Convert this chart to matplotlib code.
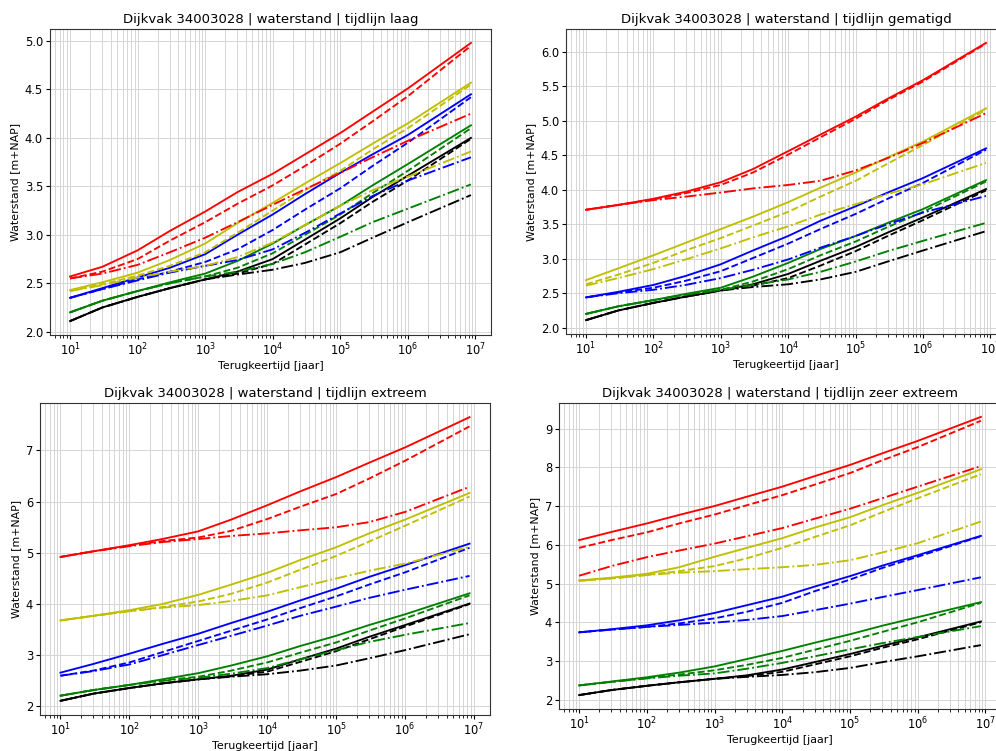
import matplotlib
matplotlib.use("Agg")
import matplotlib.pyplot as plt

# Return periods (years) at which the water levels are tabulated
terugkeertijd = [10, 30, 100, 300, 1e3, 3e3, 1e4, 3e4, 1e5, 3e5, 1e6, 8.6e6]

kleuren = ["k", "g", "b", "y", "r"]
stijlen = ["-", "--", "-."]

# Water levels [m+NAP] per timeline: for each colour three variants (solid, dashed, dash-dot)
laag = {
    "k": [[2.11, 2.25, 2.36, 2.45, 2.54, 2.62, 2.75, 2.95, 3.17, 3.39, 3.61, 4.00],
          [2.11, 2.25, 2.36, 2.45, 2.54, 2.60, 2.70, 2.90, 3.12, 3.34, 3.56, 3.99],
          [2.11, 2.25, 2.36, 2.45, 2.54, 2.59, 2.64, 2.71, 2.82, 2.97, 3.13, 3.41]],
    "g": [[2.20, 2.32, 2.42, 2.51, 2.60, 2.73, 2.91, 3.10, 3.30, 3.51, 3.73, 4.13],
          [2.20, 2.32, 2.42, 2.50, 2.57, 2.66, 2.81, 3.00, 3.21, 3.43, 3.66, 4.10],
          [2.20, 2.32, 2.42, 2.50, 2.57, 2.62, 2.70, 2.82, 2.98, 3.13, 3.27, 3.52]],
    "b": [[2.35, 2.45, 2.56, 2.66, 2.80, 3.00, 3.21, 3.42, 3.64, 3.83, 4.03, 4.45],
          [2.35, 2.44, 2.54, 2.62, 2.72, 2.85, 3.05, 3.26, 3.48, 3.71, 3.95, 4.42],
          [2.35, 2.44, 2.53, 2.61, 2.68, 2.74, 2.85, 3.02, 3.22, 3.40, 3.56, 3.80]],
    "y": [[2.43, 2.51, 2.61, 2.74, 2.91, 3.12, 3.33, 3.53, 3.74, 3.94, 4.15, 4.57],
          [2.42, 2.49, 2.58, 2.68, 2.82, 3.02, 3.25, 3.46, 3.66, 3.88, 4.10, 4.55],
          [2.42, 2.48, 2.56, 2.62, 2.68, 2.77, 2.92, 3.10, 3.30, 3.46, 3.60, 3.86]],
    "r": [[2.57, 2.67, 2.84, 3.04, 3.24, 3.44, 3.63, 3.83, 4.05, 4.27, 4.51, 4.98],
          [2.55, 2.62, 2.75, 2.94, 3.13, 3.32, 3.51, 3.71, 3.94, 4.17, 4.43, 4.95],
          [2.55, 2.60, 2.69, 2.82, 2.97, 3.13, 3.31, 3.47, 3.64, 3.80, 3.97, 4.25]],
}

gematigd = {
    "k": [[2.11, 2.25, 2.36, 2.45, 2.54, 2.63, 2.78, 2.97, 3.17, 3.38, 3.60, 4.01],
          [2.11, 2.25, 2.36, 2.45, 2.54, 2.61, 2.72, 2.90, 3.11, 3.33, 3.56, 3.99],
          [2.11, 2.25, 2.36, 2.45, 2.54, 2.59, 2.63, 2.70, 2.81, 2.96, 3.12, 3.40]],
    "g": [[2.20, 2.31, 2.40, 2.49, 2.58, 2.74, 2.94, 3.14, 3.33, 3.52, 3.72, 4.14],
          [2.20, 2.31, 2.40, 2.48, 2.55, 2.67, 2.85, 3.05, 3.25, 3.46, 3.68, 4.12],
          [2.20, 2.31, 2.40, 2.48, 2.55, 2.62, 2.70, 2.81, 2.96, 3.11, 3.26, 3.52]],
    "b": [[2.44, 2.52, 2.62, 2.75, 2.92, 3.12, 3.33, 3.55, 3.76, 3.96, 4.17, 4.60],
          [2.44, 2.51, 2.58, 2.68, 2.82, 3.01, 3.22, 3.43, 3.65, 3.87, 4.10, 4.58],
          [2.44, 2.50, 2.55, 2.62, 2.72, 2.84, 2.99, 3.16, 3.33, 3.50, 3.67, 3.91]],
    "y": [[2.69, 2.86, 3.05, 3.23, 3.43, 3.61, 3.82, 4.03, 4.25, 4.47, 4.70, 5.18],
          [2.63, 2.77, 2.94, 3.12, 3.30, 3.48, 3.68, 3.90, 4.13, 4.38, 4.65, 5.16],
          [2.61, 2.72, 2.85, 2.99, 3.15, 3.31, 3.47, 3.64, 3.79, 3.94, 4.08, 4.39]],
    "r": [[3.71, 3.78, 3.87, 3.97, 4.11, 4.30, 4.56, 4.80, 5.06, 5.32, 5.59, 6.13],
          [3.71, 3.78, 3.86, 3.95, 4.07, 4.25, 4.51, 4.76, 5.03, 5.30, 5.57, 6.12],
          [3.71, 3.78, 3.85, 3.90, 3.96, 4.02, 4.07, 4.13, 4.28, 4.46, 4.68, 5.11]],
}

extreem = {
    "k": [[2.11, 2.25, 2.36, 2.45, 2.53, 2.60, 2.72, 2.92, 3.13, 3.36, 3.59, 4.01],
          [2.11, 2.25, 2.36, 2.45, 2.53, 2.59, 2.68, 2.87, 3.08, 3.31, 3.56, 4.00],
          [2.11, 2.25, 2.36, 2.45, 2.53, 2.58, 2.63, 2.70, 2.80, 2.94, 3.10, 3.41]],
    "g": [[2.21, 2.32, 2.42, 2.53, 2.65, 2.80, 2.98, 3.18, 3.38, 3.59, 3.80, 4.21],
          [2.21, 2.32, 2.42, 2.51, 2.58, 2.70, 2.86, 3.05, 3.25, 3.48, 3.72, 4.17],
          [2.21, 2.32, 2.42, 2.50, 2.56, 2.64, 2.75, 2.92, 3.10, 3.26, 3.40, 3.63]],
    "b": [[2.66, 2.83, 3.03, 3.22, 3.42, 3.63, 3.85, 4.07, 4.30, 4.53, 4.76, 5.18],
          [2.60, 2.70, 2.86, 3.06, 3.28, 3.48, 3.70, 3.92, 4.15, 4.38, 4.62, 5.10],
          [2.60, 2.69, 2.82, 3.00, 3.20, 3.38, 3.58, 3.77, 3.95, 4.12, 4.28, 4.55]],
    "y": [[3.68, 3.77, 3.88, 4.00, 4.18, 4.38, 4.61, 4.86, 5.11, 5.38, 5.65, 6.17],
          [3.68, 3.77, 3.86, 3.94, 4.05, 4.20, 4.42, 4.67, 4.94, 5.22, 5.53, 6.10],
          [3.68, 3.77, 3.86, 3.93, 3.98, 4.06, 4.17, 4.33, 4.50, 4.65, 4.79, 5.12]],
    "r": [[4.92, 5.03, 5.15, 5.27, 5.42, 5.65, 5.93, 6.20, 6.48, 6.76, 7.06, 7.65],
          [4.92, 5.03, 5.14, 5.23, 5.30, 5.43, 5.66, 5.90, 6.15, 6.45, 6.80, 7.47],
          [4.92, 5.03, 5.13, 5.21, 5.27, 5.33, 5.38, 5.44, 5.50, 5.60, 5.80, 6.29]],
}

zeer_extreem = {
    "k": [[2.12, 2.25, 2.36, 2.45, 2.54, 2.63, 2.78, 2.97, 3.18, 3.39, 3.61, 4.02],
          [2.12, 2.25, 2.36, 2.45, 2.54, 2.61, 2.72, 2.91, 3.12, 3.34, 3.56, 4.00],
          [2.12, 2.25, 2.36, 2.45, 2.54, 2.59, 2.64, 2.71, 2.82, 2.97, 3.12, 3.41]],
    "g": [[2.37, 2.47, 2.58, 2.70, 2.86, 3.05, 3.26, 3.47, 3.69, 3.91, 4.13, 4.52],
          [2.37, 2.46, 2.56, 2.65, 2.76, 2.90, 3.08, 3.29, 3.52, 3.75, 4.00, 4.50],
          [2.37, 2.46, 2.55, 2.62, 2.68, 2.80, 2.95, 3.12, 3.30, 3.46, 3.62, 3.90]],
    "b": [[3.74, 3.82, 3.92, 4.05, 4.24, 4.44, 4.66, 4.92, 5.19, 5.46, 5.73, 6.23],
          [3.74, 3.81, 3.88, 3.97, 4.10, 4.27, 4.50, 4.80, 5.10, 5.40, 5.69, 6.22],
          [3.74, 3.81, 3.88, 3.93, 3.99, 4.06, 4.16, 4.31, 4.48, 4.65, 4.83, 5.16]],
    "y": [[5.08, 5.15, 5.25, 5.42, 5.69, 5.92, 6.17, 6.44, 6.71, 7.02, 7.34, 7.95],
          [5.07, 5.13, 5.22, 5.32, 5.45, 5.65, 5.92, 6.20, 6.50, 6.84, 7.20, 7.82],
          [5.07, 5.13, 5.22, 5.28, 5.32, 5.37, 5.42, 5.48, 5.60, 5.80, 6.04, 6.60]],
    "r": [[6.12, 6.33, 6.55, 6.77, 7.00, 7.24, 7.50, 7.77, 8.06, 8.36, 8.68, 9.30],
          [5.92, 6.12, 6.32, 6.55, 6.78, 7.02, 7.28, 7.55, 7.85, 8.18, 8.52, 9.20],
          [5.20, 5.45, 5.68, 5.85, 6.03, 6.22, 6.43, 6.67, 6.93, 7.20, 7.50, 8.03]],
}

tijdlijnen = ["laag", "gematigd", "extreem", "zeer extreem"]
reeksen = [laag, gematigd, extreem, zeer_extreem]

W, H = 996, 751
# axes boxes in pixels: (left, top, right, bottom)
boxes = [(50, 29, 491, 335), (566, 29, 1006, 334),
         (40, 403, 490, 715), (559, 403, 1001, 709)]

fig = plt.figure(figsize=(W / 100, H / 100), dpi=100)

for naam, data, (l, t, r, b) in zip(tijdlijnen, reeksen, boxes):
    ax = fig.add_axes([l / W, 1 - b / H, (r - l) / W, (b - t) / H])
    for kleur in kleuren:
        for stijl, waarden in zip(stijlen, data[kleur]):
            ax.plot(terugkeertijd, waarden, color=kleur, linestyle=stijl, lw=1.35)
    ax.set_xscale("log")
    ax.grid(which="both", color="#d5d5d5", lw=0.7)
    ax.set_axisbelow(True)
    ax.set_title(f"Dijkvak 34003028 | waterstand | tijdlijn {naam}", fontsize=9.5, pad=4)
    ax.set_xlabel("Terugkeertijd [jaar]", fontsize=7.9, labelpad=2)
    ax.set_ylabel("Waterstand [m+NAP]", fontsize=7.9, labelpad=3)
    ax.tick_params(labelsize=8.3, length=3, pad=2)
    ax.tick_params(which="minor", length=1.8)
    for s in ax.spines.values():
        s.set_color("#333333")
        s.set_linewidth(0.8)

fig.savefig("out.png", dpi=100)
